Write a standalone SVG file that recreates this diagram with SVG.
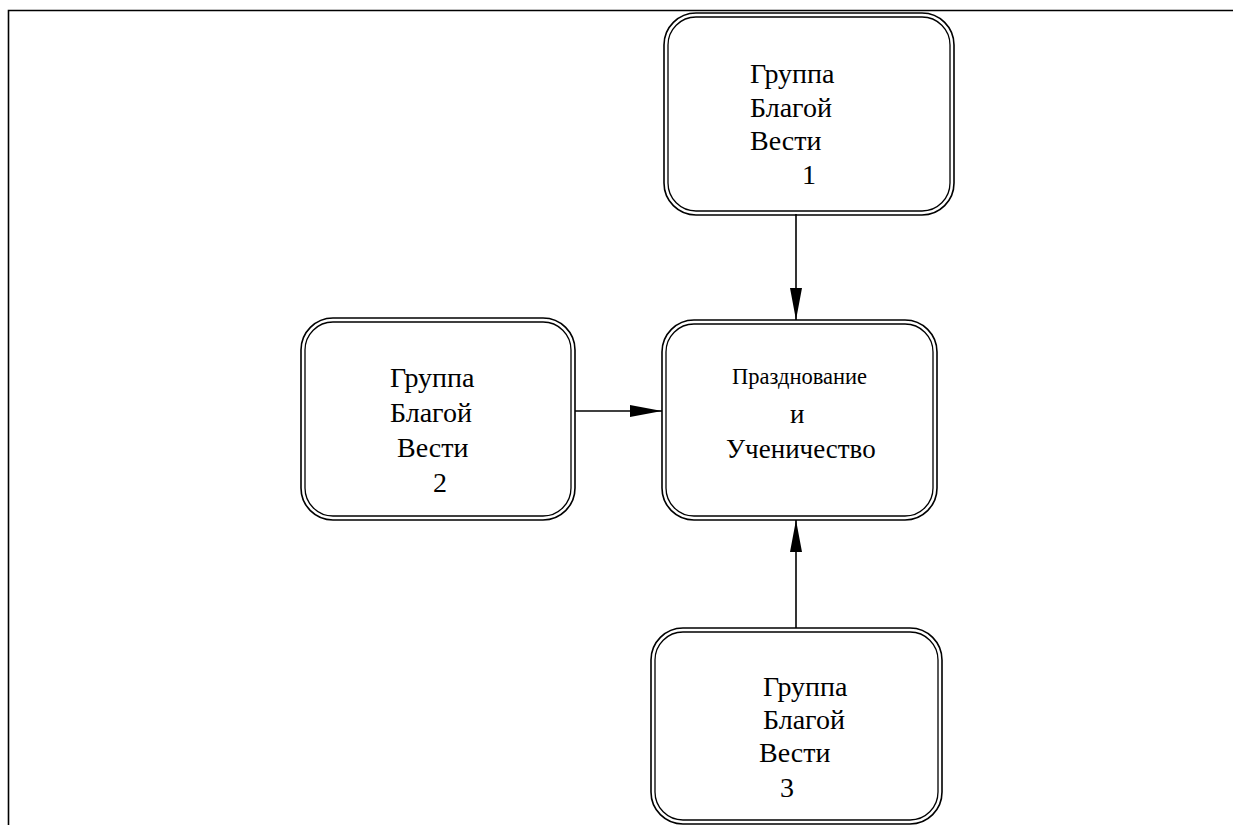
<svg xmlns="http://www.w3.org/2000/svg" width="1233" height="825" viewBox="0 0 1233 825">
<style>
.o{fill:none;stroke:#000;stroke-width:1.6}
.i{fill:none;stroke:#000;stroke-width:1.3}
.t{font-family:"Liberation Serif","Times New Roman","DejaVu Serif",serif;font-size:28px;fill:#000}
.s{font-size:22.5px}
.m{font-size:27px}
.c{stroke:#000;stroke-width:1.6;fill:none}
</style>
<defs>
<marker id="ah" markerWidth="32" markerHeight="12" refX="32" refY="6" orient="auto" markerUnits="userSpaceOnUse" viewBox="0 0 32 12">
<path d="M0,0 L32,6 L0,12 Z" fill="#000"/>
</marker>
</defs>
<rect width="1233" height="825" fill="#fff"/>
<g id="frame">
<path d="M8.5,825 V10.5 H1233" fill="none" stroke="#000" stroke-width="1.6"/>
</g>
<g id="connectors">
<line class="c" x1="796" y1="214" x2="796" y2="320" marker-end="url(#ah)"/>
<line class="c" x1="575" y1="411" x2="662" y2="411" marker-end="url(#ah)"/>
<line class="c" x1="796" y1="628" x2="796" y2="520" marker-end="url(#ah)"/>
</g>
<g id="node1">
<rect class="o" x="664" y="13" width="290" height="202" rx="32" ry="32"/>
<rect class="i" x="668" y="17" width="282" height="194" rx="28" ry="28"/>
<text class="t" x="750" y="83">Группа</text>
<text class="t" x="750" y="117">Благой</text>
<text class="t" x="750" y="150">Вести</text>
<text class="t" x="802" y="184">1</text>
</g>
<g id="node2">
<rect class="o" x="301" y="318" width="274" height="202" rx="32" ry="32"/>
<rect class="i" x="305" y="322" width="266" height="194" rx="28" ry="28"/>
<text class="t" x="390" y="387">Группа</text>
<text class="t" x="390" y="422">Благой</text>
<text class="t" x="397" y="457">Вести</text>
<text class="t" x="433" y="492">2</text>
</g>
<g id="center">
<rect class="o" x="662" y="320" width="275" height="200" rx="32" ry="32"/>
<rect class="i" x="666" y="324" width="267" height="192" rx="28" ry="28"/>
<text class="t s" x="732" y="384">Празднование</text>
<text class="t m" x="790" y="423">и</text>
<text class="t m" x="726" y="458">Ученичество</text>
</g>
<g id="node3">
<rect class="o" x="651" y="628" width="291" height="196" rx="32" ry="32"/>
<rect class="i" x="655" y="632" width="283" height="188" rx="28" ry="28"/>
<text class="t" x="763" y="696">Группа</text>
<text class="t" x="763" y="729">Благой</text>
<text class="t" x="759" y="762">Вести</text>
<text class="t" x="780" y="797">3</text>
</g>
</svg>
